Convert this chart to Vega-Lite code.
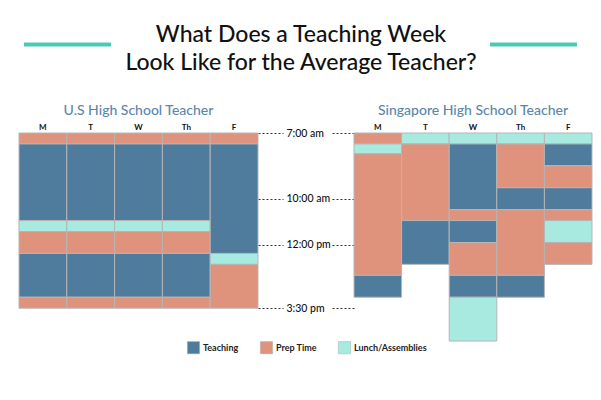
{
  "$schema": "https://vega.github.io/schema/vega-lite/v6.json",
  "padding": {"left": 18, "top": 20, "right": 5, "bottom": 5},
  "background": "white",
  "bounds": "flush",
  "spacing": 53,
  "datasets": {
    "blocks": [
      {"school": "US", "day": "M", "start": 0, "end": 1, "activity": "Prep Time"},
      {"school": "US", "day": "M", "start": 1, "end": 8, "activity": "Teaching"},
      {"school": "US", "day": "M", "start": 8, "end": 9, "activity": "Lunch/Assemblies"},
      {"school": "US", "day": "M", "start": 9, "end": 11, "activity": "Prep Time"},
      {"school": "US", "day": "M", "start": 11, "end": 15, "activity": "Teaching"},
      {"school": "US", "day": "M", "start": 15, "end": 16, "activity": "Prep Time"},
      {"school": "US", "day": "T", "start": 0, "end": 1, "activity": "Prep Time"},
      {"school": "US", "day": "T", "start": 1, "end": 8, "activity": "Teaching"},
      {"school": "US", "day": "T", "start": 8, "end": 9, "activity": "Lunch/Assemblies"},
      {"school": "US", "day": "T", "start": 9, "end": 11, "activity": "Prep Time"},
      {"school": "US", "day": "T", "start": 11, "end": 15, "activity": "Teaching"},
      {"school": "US", "day": "T", "start": 15, "end": 16, "activity": "Prep Time"},
      {"school": "US", "day": "W", "start": 0, "end": 1, "activity": "Prep Time"},
      {"school": "US", "day": "W", "start": 1, "end": 8, "activity": "Teaching"},
      {"school": "US", "day": "W", "start": 8, "end": 9, "activity": "Lunch/Assemblies"},
      {"school": "US", "day": "W", "start": 9, "end": 11, "activity": "Prep Time"},
      {"school": "US", "day": "W", "start": 11, "end": 15, "activity": "Teaching"},
      {"school": "US", "day": "W", "start": 15, "end": 16, "activity": "Prep Time"},
      {"school": "US", "day": "Th", "start": 0, "end": 1, "activity": "Prep Time"},
      {"school": "US", "day": "Th", "start": 1, "end": 8, "activity": "Teaching"},
      {"school": "US", "day": "Th", "start": 8, "end": 9, "activity": "Lunch/Assemblies"},
      {"school": "US", "day": "Th", "start": 9, "end": 11, "activity": "Prep Time"},
      {"school": "US", "day": "Th", "start": 11, "end": 15, "activity": "Teaching"},
      {"school": "US", "day": "Th", "start": 15, "end": 16, "activity": "Prep Time"},
      {"school": "US", "day": "F", "start": 0, "end": 1, "activity": "Prep Time"},
      {"school": "US", "day": "F", "start": 1, "end": 11, "activity": "Teaching"},
      {"school": "US", "day": "F", "start": 11, "end": 12, "activity": "Lunch/Assemblies"},
      {"school": "US", "day": "F", "start": 12, "end": 16, "activity": "Prep Time"},
      {"school": "SG", "day": "M", "start": 0, "end": 1, "activity": "Prep Time"},
      {"school": "SG", "day": "M", "start": 1, "end": 1.9, "activity": "Lunch/Assemblies"},
      {"school": "SG", "day": "M", "start": 1.9, "end": 13, "activity": "Prep Time"},
      {"school": "SG", "day": "M", "start": 13, "end": 15, "activity": "Teaching"},
      {"school": "SG", "day": "T", "start": 0, "end": 1, "activity": "Lunch/Assemblies"},
      {"school": "SG", "day": "T", "start": 1, "end": 8, "activity": "Prep Time"},
      {"school": "SG", "day": "T", "start": 8, "end": 12, "activity": "Teaching"},
      {"school": "SG", "day": "W", "start": 0, "end": 1, "activity": "Lunch/Assemblies"},
      {"school": "SG", "day": "W", "start": 1, "end": 7, "activity": "Teaching"},
      {"school": "SG", "day": "W", "start": 7, "end": 8, "activity": "Prep Time"},
      {"school": "SG", "day": "W", "start": 8, "end": 10, "activity": "Teaching"},
      {"school": "SG", "day": "W", "start": 10, "end": 13, "activity": "Prep Time"},
      {"school": "SG", "day": "W", "start": 13, "end": 15, "activity": "Teaching"},
      {"school": "SG", "day": "W", "start": 15, "end": 19, "activity": "Lunch/Assemblies"},
      {"school": "SG", "day": "Th", "start": 0, "end": 1, "activity": "Lunch/Assemblies"},
      {"school": "SG", "day": "Th", "start": 1, "end": 5, "activity": "Prep Time"},
      {"school": "SG", "day": "Th", "start": 5, "end": 7, "activity": "Teaching"},
      {"school": "SG", "day": "Th", "start": 7, "end": 13, "activity": "Prep Time"},
      {"school": "SG", "day": "Th", "start": 13, "end": 15, "activity": "Teaching"},
      {"school": "SG", "day": "F", "start": 0, "end": 1, "activity": "Lunch/Assemblies"},
      {"school": "SG", "day": "F", "start": 1, "end": 3, "activity": "Teaching"},
      {"school": "SG", "day": "F", "start": 3, "end": 5, "activity": "Prep Time"},
      {"school": "SG", "day": "F", "start": 5, "end": 7, "activity": "Teaching"},
      {"school": "SG", "day": "F", "start": 7, "end": 8, "activity": "Prep Time"},
      {"school": "SG", "day": "F", "start": 8, "end": 10, "activity": "Lunch/Assemblies"},
      {"school": "SG", "day": "F", "start": 10, "end": 12, "activity": "Prep Time"}
    ]
  },
  "vconcat": [
    {
      "width": 573,
      "height": 60,
      "data": {"values": [{}]},
      "layer": [
        {
          "mark": {"type": "rule", "color": "#4CC9B5", "strokeWidth": 4},
          "encoding": {
            "x": {"datum": 5, "type": "quantitative", "scale": {"domain": [0, 573], "nice": false}, "axis": null},
            "x2": {"datum": 92},
            "y": {"datum": 24.5, "type": "quantitative", "scale": {"domain": [0, 60], "nice": false, "reverse": true}, "axis": null}
          }
        },
        {
          "mark": {"type": "rule", "color": "#4CC9B5", "strokeWidth": 4},
          "encoding": {
            "x": {"datum": 471, "type": "quantitative"},
            "x2": {"datum": 558},
            "y": {"datum": 24.5, "type": "quantitative"}
          }
        },
        {
          "mark": {"type": "text", "text": ["What Does a Teaching Week", "Look Like for the Average Teacher?"], "align": "center", "baseline": "alphabetic", "lineHeight": 28, "fontSize": 23, "font": "Lato", "fontWeight": 500, "color": "#111111"},
          "encoding": {
            "x": {"datum": 282, "type": "quantitative"},
            "y": {"datum": 22.3, "type": "quantitative"}
          }
        }
      ]
    },
    {
      "bounds": "flush",
      "spacing": 96,
      "hconcat": [
        {
          "width": 239,
          "height": 208,
          "title": {"text": "U.S High School Teacher", "color": "#5B87AA", "fontSize": 14, "font": "Lato", "fontWeight": 500, "anchor": "middle", "offset": 5},
          "data": {"name": "blocks"},
          "transform": [{"filter": "datum.school === 'US'"}],
          "mark": {"type": "rect", "stroke": "#b5b5b5", "strokeWidth": 1},
          "encoding": {
            "x": {"field": "day", "type": "nominal", "sort": ["M", "T", "W", "Th", "F"], "scale": {"paddingInner": 0, "paddingOuter": 0},
                  "axis": {"orient": "top", "title": null, "ticks": false, "tickSize": 0, "domain": false, "labelAngle": 0, "labelFont": "Lato", "labelFontWeight": "bold", "labelFontSize": 8, "labelColor": "#111", "labelPadding": 2}},
            "y": {"field": "start", "type": "quantitative", "scale": {"domain": [0, 19], "reverse": true, "nice": false, "zero": false},
                  "axis": {"orient": "right", "values": [0, 6, 10.2, 16], "labelExpr": "datum.value == 0 ? '7:00 am' : datum.value == 6 ? '10:00 am' : datum.value == 10.2 ? '12:00 pm' : '3:30 pm'", "tickDash": [2, 2], "tickSize": 25, "tickColor": "#333", "domain": false, "grid": false, "title": null, "labelPadding": 3, "labelFont": "Lato", "labelFontSize": 10.5, "labelFontWeight": 500, "labelColor": "#111", "labelAlign": "left", "labelBaseline": "middle"}},
            "y2": {"field": "end"},
            "color": {"field": "activity", "type": "nominal",
                      "scale": {"domain": ["Teaching", "Prep Time", "Lunch/Assemblies"], "range": ["#4F7B9C", "#E0937C", "#A8EADF"]},
                      "legend": {"orient": "none", "legendX": 168, "legendY": 321, "direction": "horizontal", "title": null, "symbolType": "square", "symbolSize": 150, "symbolStrokeColor": "#9fb0b8", "symbolStrokeWidth": 0.5, "symbolOpacity": 1, "labelFont": "Lato", "labelFontWeight": "bold", "labelFontSize": 9, "labelColor": "#222", "columnPadding": 20, "labelOffset": 3}}
          }
        },
        {
          "width": 238,
          "height": 208,
          "title": {"text": "Singapore High School Teacher", "color": "#5B87AA", "fontSize": 14, "font": "Lato", "fontWeight": 500, "anchor": "middle", "offset": 5},
          "data": {"name": "blocks"},
          "transform": [{"filter": "datum.school === 'SG'"}],
          "mark": {"type": "rect", "stroke": "#b5b5b5", "strokeWidth": 1},
          "encoding": {
            "x": {"field": "day", "type": "nominal", "sort": ["M", "T", "W", "Th", "F"], "scale": {"paddingInner": 0, "paddingOuter": 0},
                  "axis": {"orient": "top", "title": null, "ticks": false, "tickSize": 0, "domain": false, "labelAngle": 0, "labelFont": "Lato", "labelFontWeight": "bold", "labelFontSize": 8, "labelColor": "#111", "labelPadding": 2}},
            "y": {"field": "start", "type": "quantitative", "scale": {"domain": [0, 19], "reverse": true, "nice": false, "zero": false},
                  "axis": {"orient": "left", "values": [0, 6, 10.2, 16], "labels": false, "tickDash": [2, 2], "tickSize": 22, "tickColor": "#333", "domain": false, "grid": false, "title": null}},
            "y2": {"field": "end"},
            "color": {"field": "activity", "type": "nominal",
                      "scale": {"domain": ["Teaching", "Prep Time", "Lunch/Assemblies"], "range": ["#4F7B9C", "#E0937C", "#A8EADF"]},
                      "legend": {"orient": "none", "legendX": 168, "legendY": 321, "direction": "horizontal", "title": null, "symbolType": "square", "symbolSize": 150, "symbolStrokeColor": "#9fb0b8", "symbolStrokeWidth": 0.5, "symbolOpacity": 1, "labelFont": "Lato", "labelFontWeight": "bold", "labelFontSize": 9, "labelColor": "#222", "columnPadding": 20, "labelOffset": 3}}
          }
        }
      ]
    }
  ],
  "config": {
    "view": {"stroke": null},
    "font": "Lato"
  }
}
